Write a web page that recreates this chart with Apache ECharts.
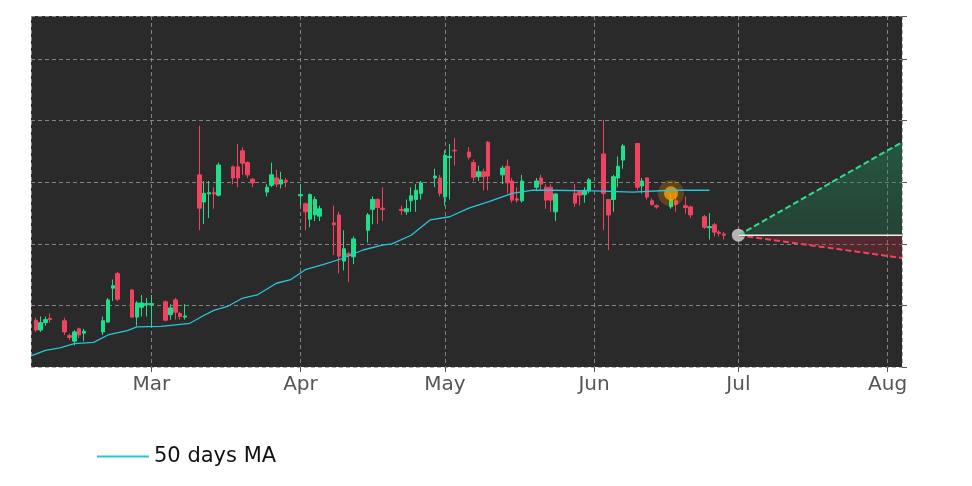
<!DOCTYPE html>
<html><head><meta charset="utf-8">
<script src="https://cdn.jsdelivr.net/npm/echarts@6/dist/echarts.min.js"></script>
<style>html,body{margin:0;background:#fff}#c{width:972px;height:486px}</style>
</head><body><div id="c"></div>
<script>
// date, open, close, low, high
const candles = [
["2024-02-06",4.24,4.08,4.05,4.28],["2024-02-07",4.08,4.20,4.05,4.30],["2024-02-08",4.20,4.25,4.15,4.30],["2024-02-09",4.27,4.25,4.20,4.35],
["2024-02-12",4.23,4.05,4.00,4.28],["2024-02-13",3.99,3.96,3.92,4.02],["2024-02-14",3.90,4.05,3.83,4.08],["2024-02-15",4.10,4.00,3.95,4.12],["2024-02-16",4.03,4.06,3.90,4.10],
["2024-02-20",4.05,4.23,4.00,4.30],["2024-02-21",4.21,4.57,4.20,4.60],["2024-02-22",4.76,4.80,4.55,4.90],["2024-02-23",5.00,4.58,4.55,5.02],
["2024-02-26",4.73,4.29,4.28,4.75],["2024-02-27",4.29,4.52,4.15,4.55],["2024-02-28",4.45,4.52,4.30,4.65],["2024-02-29",4.49,4.51,4.30,4.60],["2024-03-01",4.49,4.51,4.15,4.65],
["2024-03-04",4.54,4.24,4.22,4.56],["2024-03-05",4.33,4.44,4.25,4.50],["2024-03-06",4.57,4.37,4.25,4.60],["2024-03-07",4.35,4.30,4.25,4.38],["2024-03-08",4.29,4.31,4.25,4.50],
["2024-03-11",6.60,6.06,5.70,7.40],["2024-03-12",6.16,6.30,5.80,6.50],["2024-03-13",6.29,6.31,5.90,6.50],["2024-03-14",6.31,6.29,6.05,6.40],["2024-03-15",6.27,6.76,6.25,6.80],
["2024-03-18",6.73,6.55,6.45,6.75],["2024-03-19",6.73,6.55,6.40,7.10],["2024-03-20",6.99,6.79,6.60,7.05],["2024-03-21",6.80,6.60,6.55,6.82],["2024-03-22",6.53,6.47,6.40,6.55],
["2024-03-25",6.32,6.40,6.25,6.45],["2024-03-26",6.43,6.60,6.40,6.80],["2024-03-27",6.55,6.45,6.40,6.68],["2024-03-28",6.45,6.52,6.38,6.65],["2024-03-29",6.51,6.49,6.40,6.55],
["2024-04-01",6.26,6.28,6.10,6.45],["2024-04-02",6.13,6.00,5.70,6.15],["2024-04-03",5.88,6.28,5.75,6.30],["2024-04-04",5.95,6.20,5.85,6.25],["2024-04-05",5.93,6.05,5.85,6.10],
["2024-04-08",5.82,5.79,5.30,6.10],["2024-04-09",5.95,5.28,5.00,6.00],["2024-04-10",5.20,5.40,5.05,5.70],["2024-04-11",5.32,5.29,4.86,5.35],["2024-04-12",5.27,5.56,5.15,5.60],
["2024-04-15",5.70,5.95,5.50,5.98],["2024-04-16",6.04,6.20,5.80,6.25],["2024-04-17",6.20,6.07,5.80,6.22],["2024-04-18",6.06,6.04,5.85,6.40],
["2024-04-22",6.04,6.02,5.95,6.10],["2024-04-23",6.00,6.05,5.95,6.20],["2024-04-24",6.18,6.26,6.00,6.40],["2024-04-25",6.20,6.35,6.00,6.45],["2024-04-26",6.30,6.47,6.20,6.50],
["2024-04-29",6.55,6.58,6.40,6.70],["2024-04-30",6.55,6.30,6.25,6.60],["2024-05-01",6.24,6.92,6.10,7.00],["2024-05-02",6.88,6.90,6.20,7.10],["2024-05-03",7.00,6.99,6.75,7.20],
["2024-05-06",6.97,6.89,6.85,7.05],["2024-05-07",6.80,6.56,6.50,6.85],["2024-05-08",6.57,6.65,6.50,6.75],["2024-05-09",6.65,6.57,6.35,6.70],["2024-05-10",7.13,6.58,6.35,7.15],
["2024-05-13",6.60,6.71,6.45,6.75],["2024-05-14",6.74,6.47,6.30,6.85],["2024-05-15",6.50,6.19,6.15,6.55],["2024-05-16",6.21,6.19,6.15,6.40],["2024-05-17",6.18,6.50,6.15,6.60],
["2024-05-20",6.40,6.50,6.35,6.55],["2024-05-21",6.55,6.45,6.35,6.60],["2024-05-22",6.40,6.19,6.05,6.45],["2024-05-23",6.40,6.19,6.00,6.45],["2024-05-24",6.00,6.29,5.85,6.30],
["2024-05-28",6.30,6.14,6.08,6.45],["2024-05-29",6.33,6.27,6.10,6.35],["2024-05-30",6.28,6.35,6.15,6.40],["2024-05-31",6.34,6.52,6.30,6.55],
["2024-06-03",6.94,6.30,5.70,7.49],["2024-06-04",6.20,5.95,5.38,6.20],["2024-06-05",6.20,6.57,6.00,6.60],["2024-06-06",6.55,6.74,6.40,6.90],["2024-06-07",6.84,7.07,6.70,7.10],
["2024-06-10",7.11,6.40,6.35,7.11],["2024-06-11",6.42,6.50,6.30,6.55],["2024-06-12",6.55,6.24,6.20,6.56],["2024-06-13",6.18,6.12,6.10,6.22],["2024-06-14",6.10,6.08,6.05,6.12],
["2024-06-17",6.08,6.20,6.05,6.30],["2024-06-18",6.18,6.12,6.00,6.30],["2024-06-20",6.10,6.07,5.97,6.25],["2024-06-21",6.08,5.95,5.90,6.10],
["2024-06-24",5.92,5.75,5.72,5.95],["2024-06-25",5.74,5.76,5.55,5.98],["2024-06-26",5.79,5.67,5.60,5.82],["2024-06-27",5.67,5.65,5.60,5.70],["2024-06-28",5.64,5.62,5.55,5.67]
];
const maDates = ["2024-02-05","2024-02-08","2024-02-11","2024-02-14","2024-02-18","2024-02-21","2024-02-25","2024-02-27","2024-03-03","2024-03-09","2024-03-12","2024-03-14","2024-03-17","2024-03-20","2024-03-23","2024-03-27","2024-03-30","2024-04-02","2024-04-06","2024-04-10","2024-04-14","2024-04-18","2024-04-20","2024-04-24","2024-04-28","2024-05-02","2024-05-06","2024-05-10","2024-05-15","2024-05-19","2024-05-23","2024-06-01","2024-06-09","2024-06-17","2024-06-25"];
const maValues = [3.66,3.75,3.79,3.86,3.88,4.00,4.07,4.13,4.14,4.19,4.32,4.40,4.47,4.60,4.65,4.84,4.90,5.06,5.15,5.25,5.38,5.46,5.48,5.62,5.87,5.92,6.06,6.16,6.30,6.35,6.35,6.34,6.32,6.35,6.35];
const fcDates = ["2024-07-01","2024-08-04"];
const fcBase = 5.62, fcUpper = 7.13, fcLower = 5.25;
const markPoint = ["2024-06-17",6.30];

const up='#1ee08a', down='#f0435f';
const ch = echarts.init(document.getElementById('c'));
ch.setOption({
  animation:false,
  grid:{left:31,right:70,top:16,bottom:119,show:true,backgroundColor:'#2a2a2a',borderWidth:0},
  legend:{data:['50 days MA'],left:92,top:441,itemWidth:52,itemHeight:2,itemGap:10,
    textStyle:{fontSize:21,color:'#111',fontFamily:'DejaVu Sans'},icon:'rect'},
  xAxis:{type:'time',min:'2024-02-05',max:'2024-08-04',
    axisLine:{show:false},axisTick:{show:true,length:5,lineStyle:{color:'#555'}},
    splitLine:{show:true,lineStyle:{color:'#999',type:[4,3],width:0.8}},
    axisLabel:{fontSize:20,color:'#555',fontFamily:'DejaVu Sans',margin:8,
      formatter:v=>['Jan','Feb','Mar','Apr','May','Jun','Jul','Aug','Sep'][new Date(v).getMonth()]}},
  yAxis:{type:'value',position:'right',min:3.48,max:9.18,interval:1,
    axisLine:{show:false},axisTick:{show:true,length:5,lineStyle:{color:'#555'}},
    splitLine:{show:true,lineStyle:{color:'#999',type:[4,3],width:0.8}},
    axisLabel:{fontSize:20,color:'#555',fontFamily:'DejaVu Sans',margin:6,
      formatter:v=>Math.abs(v-Math.round(v))<1e-6?String(Math.round(v)):''},
  },
  series:[
    {type:'line',name:'gb',stack:'g',data:fcDates.map(d=>[d,fcBase]),lineStyle:{opacity:0},symbol:'none',silent:true},
    {type:'line',name:'gu',stack:'g',data:[[fcDates[0],0],[fcDates[1],fcUpper-fcBase]],lineStyle:{opacity:0},symbol:'none',
      areaStyle:{color:new echarts.graphic.LinearGradient(0,0,0,1,[{offset:0,color:'rgba(30,160,100,0.55)'},{offset:1,color:'rgba(30,120,80,0.45)'}])}},
    {type:'line',name:'rb',stack:'r',data:[[fcDates[0],fcBase],[fcDates[1],fcLower]],lineStyle:{opacity:0},symbol:'none'},
    {type:'line',name:'ru',stack:'r',data:[[fcDates[0],0],[fcDates[1],fcBase-fcLower]],lineStyle:{opacity:0},symbol:'none',
      areaStyle:{color:'rgba(170,40,60,0.45)'}},
    {type:'line',data:[[fcDates[0],fcBase],[fcDates[1],fcUpper]],symbol:'none',lineStyle:{color:'#2ee08e',width:2,type:[6,3]}},
    {type:'line',data:[[fcDates[0],fcBase],[fcDates[1],fcLower]],symbol:'none',lineStyle:{color:'#f0435f',width:2,type:[6,3]}},
    {type:'line',data:fcDates.map(d=>[d,fcBase]),symbol:'none',lineStyle:{color:'#eee',width:1.5}},
    {type:'candlestick',name:'price',barWidth:4,
      data:candles.map(c=>[c[0],c[1],c[2],c[3],c[4]]),
      itemStyle:{color:up,color0:down,borderColor:up,borderColor0:down,borderWidth:1}},
    {type:'line',name:'50 days MA',data:maDates.map((d,i)=>[d,maValues[i]]),symbol:'none',smooth:false,
      lineStyle:{color:'#29c5d8',width:1.3},itemStyle:{color:'#29c5d8'}},
    {type:'scatter',data:[markPoint],symbolSize:26,itemStyle:{color:'rgba(255,160,0,0.3)'},silent:true},
    {type:'scatter',data:[markPoint],symbolSize:14,itemStyle:{color:'#ffa000'}},
    {type:'scatter',data:[[fcDates[0],fcBase]],symbolSize:13,itemStyle:{color:'#d8d8d8'}}
  ]
});
</script></body></html>
